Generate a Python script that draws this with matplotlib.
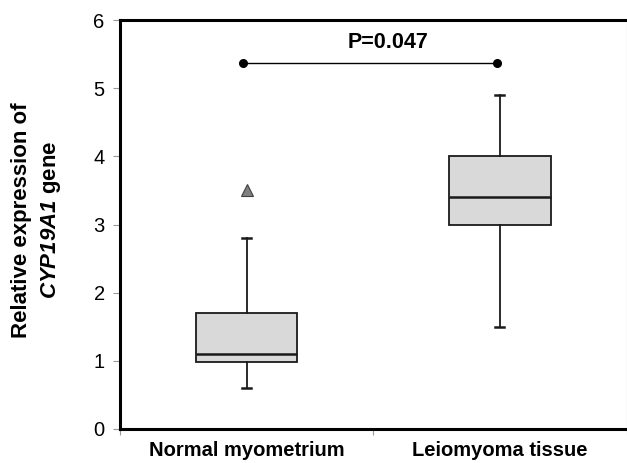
import matplotlib
matplotlib.use('Agg')
import matplotlib.pyplot as plt

plt.rcParams['font.family'] = ['Liberation Sans', 'DejaVu Sans']
plt.rcParams['mathtext.fontset'] = 'custom'
plt.rcParams['mathtext.rm'] = 'Liberation Sans'
plt.rcParams['mathtext.bf'] = 'Liberation Sans:bold'
plt.rcParams['mathtext.it'] = 'Liberation Sans:italic:bold'
plt.rcParams['mathtext.bfit'] = 'Liberation Sans:italic:bold'

# data
groups = ['Normal myometrium', 'Leiomyoma tissue']
whislo = [0.6, 1.5]
q1 = [0.98, 3.0]
med = [1.1, 3.4]
q3 = [1.7, 4.0]
whishi = [2.8, 4.9]
outliers = [[3.5], []]
p_text = 'P=0.047'
p_level = 5.37

stats = []
for i in range(len(groups)):
    stats.append({'whislo': whislo[i], 'q1': q1[i], 'med': med[i], 'q3': q3[i],
                  'whishi': whishi[i], 'fliers': outliers[i], 'label': groups[i]})

fig = plt.figure(figsize=(6.27, 4.63), dpi=100)
ax = fig.add_axes([120 / 627, 34 / 463, 506.5 / 627, 409 / 463])

ax.bxp(stats, positions=[1, 2], widths=0.4, patch_artist=True,
       boxprops=dict(facecolor='#d9d9d9', edgecolor='#1a1a1a', linewidth=1.3),
       medianprops=dict(color='#1a1a1a', linewidth=1.8),
       whiskerprops=dict(color='#1a1a1a', linewidth=1.3),
       capprops=dict(color='#1a1a1a', linewidth=1.8),
       capwidths=0.035,
       flierprops=dict(marker='^', markerfacecolor='#808080', markeredgecolor='#404040',
                       markersize=8, markeredgewidth=0.8))

# significance bar
ax.plot([0.985, 1.99], [p_level, p_level], color='black', lw=1.0,
        marker='o', markersize=5.5)
ax.text(1.56, p_level + 0.15, p_text, ha='center', va='bottom',
        fontsize=15.5, fontweight='bold')

ax.set_xlim(0.5, 2.5)
ax.set_ylim(0, 6)
ax.set_yticks(range(0, 7))
ax.tick_params(axis='y', labelsize=14.5, length=5, width=0.8, color='#999999', pad=6)

ax.set_xticks([0.5, 1.5, 2.5])
ax.set_xticklabels([])
ax.set_xticks([1, 2], minor=True)
ax.set_xticklabels(groups, minor=True, fontsize=14.5, fontweight='bold')
ax.tick_params(axis='x', which='major', length=4, width=0.8, color='#999999')
ax.tick_params(axis='x', which='minor', length=0, pad=9)

for s in ['left', 'top', 'bottom']:
    ax.spines[s].set_linewidth(2.2)
    ax.spines[s].set_color('black')
ax.spines['right'].set_linewidth(0.8)
ax.spines['right'].set_color('#aaaaaa')

fig.text(22 / 627, 1 - 220 / 463, 'Relative expression of', rotation=90,
         ha='center', va='center', fontsize=16, fontweight='bold')
fig.text(51 / 627, 1 - 220 / 463, r'$\mathbfit{CYP19A1}$ gene', rotation=90,
         ha='center', va='center', fontsize=16, fontweight='bold')

fig.savefig('out.png', dpi=100)
